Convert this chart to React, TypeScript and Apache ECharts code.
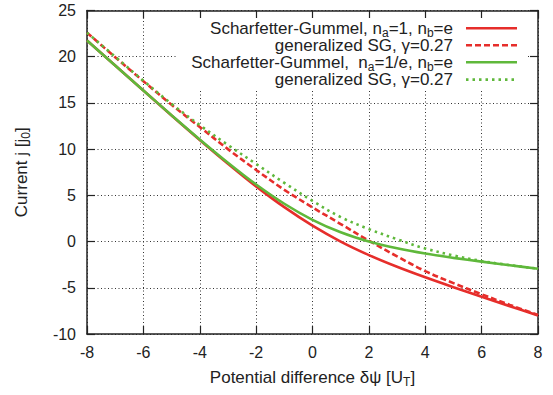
import React, { useEffect, useRef } from "react";
import * as echarts from "echarts";

// Potential difference δψ [U_T]
const xValues = [-8, -7, -6, -5, -4, -3, -2, -1, 0, 1, 2, 3, 4, 5, 6, 7, 8];
// Scharfetter-Gummel, n_a=1, n_b=e
const sgRed = [21.75, 19.04, 16.34, 13.65, 11.0, 8.43, 5.97, 3.72, 1.72, 0.0, -1.46, -2.73, -3.87, -4.94, -5.97, -6.99, -7.99];
// generalized SG, γ=0.27 (n_a=1, n_b=e)
const genRed = [22.6, 19.95, 17.35, 14.8, 12.4, 10.0, 7.75, 5.6, 3.7, 1.9, 0.1, -1.6, -3.2, -4.5, -5.7, -6.85, -7.95];
// Scharfetter-Gummel, n_a=1/e, n_b=e
const sgGreen = [21.75, 19.04, 16.35, 13.67, 11.05, 8.53, 6.17, 4.09, 2.35, 1.0, 0.0, -0.73, -1.3, -1.76, -2.17, -2.56, -2.94];
// generalized SG, γ=0.27 (n_a=1/e, n_b=e)
const genGreen = [22.6, 20.0, 17.4, 14.9, 12.6, 10.45, 8.4, 6.35, 4.4, 2.65, 1.35, 0.25, -0.75, -1.5, -2.1, -2.55, -2.93];

const legendLabels = [
  "Scharfetter-Gummel, n{sub|a}=1, n{sub|b}=e",
  "generalized SG, γ=0.27",
  "Scharfetter-Gummel,  n{sub|a}=1/e, n{sub|b}=e",
  "generalized SG, γ=0.27",
];

const RED = "#e62e2b";
const GREEN = "#5fb83b";
const FONT = "Liberation Sans, Arial, Helvetica, sans-serif";
const TXT = "#222";

const pairs = (ys: number[]) => xValues.map((x, i) => [x, ys[i]]);

export default function App() {
  const ref = useRef<HTMLDivElement>(null);
  useEffect(() => {
    if (!ref.current) return;
    const chart = echarts.init(ref.current, null, { renderer: "svg" });
    const subRich = {
      sub: { fontSize: 12, lineHeight: 12, verticalAlign: "bottom", fontFamily: FONT, fill: TXT, color: TXT },
    };
    const gridLine = { show: true, lineStyle: { color: "#333", width: 1, type: [1, 2.5] } };
    const axisLine = { show: true, onZero: false, lineStyle: { color: "#222", width: 1.5 } };
    const tick = { show: true, inside: true, length: 8, lineStyle: { color: "#222", width: 1.2 } };
    const styles = [
      { color: RED, dash: "solid" as any },
      { color: RED, dash: [6, 3] },
      { color: GREEN, dash: "solid" as any },
      { color: GREEN, dash: [2.5, 4] },
    ];
    const rowsY = [28.3, 45.3, 62.3, 79.6];
    const legendEls: any[] = [
      {
        type: "rect",
        z: 100,
        shape: { x: 176, y: 18, width: 351, height: 72 },
        style: { fill: "#fff" },
      },
    ];
    legendLabels.forEach((t, i) => {
      legendEls.push({
        type: "text",
        z: 101,
        x: 453,
        y: rowsY[i],
        style: {
          text: t,
          fontSize: 17,
          fontFamily: FONT,
          fill: TXT,
          align: "right",
          verticalAlign: "middle",
          lineHeight: 21,
          rich: subRich,
        },
      });
      legendEls.push({
        type: "line",
        z: 101,
        shape: { x1: 466, y1: rowsY[i], x2: 517, y2: rowsY[i] },
        style: { stroke: styles[i].color, lineWidth: 2.6, lineDash: styles[i].dash === "solid" ? null : styles[i].dash },
      });
    });

    chart.setOption({
      animation: false,
      backgroundColor: "#fff",
      grid: { left: 87, right: 15, top: 10.5, bottom: 61, containLabel: false },
      xAxis: [
        {
          type: "value",
          position: "bottom",
          min: -8,
          max: 8,
          interval: 2,
          name: "Potential difference δψ [U{sub|T}]",
          nameLocation: "middle",
          nameGap: 33,
          nameTextStyle: { fontSize: 17, fontFamily: FONT, color: TXT, lineHeight: 21, rich: subRich },
          axisLine,
          axisTick: tick,
          axisLabel: { fontSize: 16, fontFamily: FONT, color: TXT, margin: 10 },
          splitLine: gridLine,
        },
        {
          type: "value",
          position: "top",
          min: -8,
          max: 8,
          interval: 2,
          axisLine,
          axisTick: tick,
          axisLabel: { show: false },
          splitLine: { show: false },
        },
      ],
      yAxis: [
        {
          type: "value",
          position: "left",
          min: -10,
          max: 25,
          interval: 5,
          name: "Current j [j{sub|0}]",
          nameLocation: "middle",
          nameGap: 55,
          nameRotate: 90,
          nameTextStyle: { fontSize: 17, fontFamily: FONT, color: TXT, lineHeight: 21, rich: subRich },
          axisLine,
          axisTick: tick,
          axisLabel: { fontSize: 16, fontFamily: FONT, color: TXT, margin: 11 },
          splitLine: gridLine,
        },
        {
          type: "value",
          position: "right",
          min: -10,
          max: 25,
          interval: 5,
          axisLine,
          axisTick: tick,
          axisLabel: { show: false },
          splitLine: { show: false },
        },
      ],
      series: [
        { name: "SG red", data: pairs(sgRed), style: 0 },
        { name: "gen red", data: pairs(genRed), style: 1 },
        { name: "SG green", data: pairs(sgGreen), style: 2 },
        { name: "gen green", data: pairs(genGreen), style: 3 },
      ].map((s) => ({
        name: s.name,
        type: "line",
        data: s.data,
        smooth: 0.35,
        showSymbol: false,
        symbol: "none",
        clip: true,
        lineStyle: {
          color: styles[s.style].color,
          width: 2.6,
          type: styles[s.style].dash,
          cap: "butt",
        },
      })),
      graphic: legendEls,
    });
    return () => chart.dispose();
  }, []);
  return (
    <div
      ref={ref}
      style={{ position: "fixed", left: 0, top: 0, width: 553, height: 395 }}
    />
  );
}
